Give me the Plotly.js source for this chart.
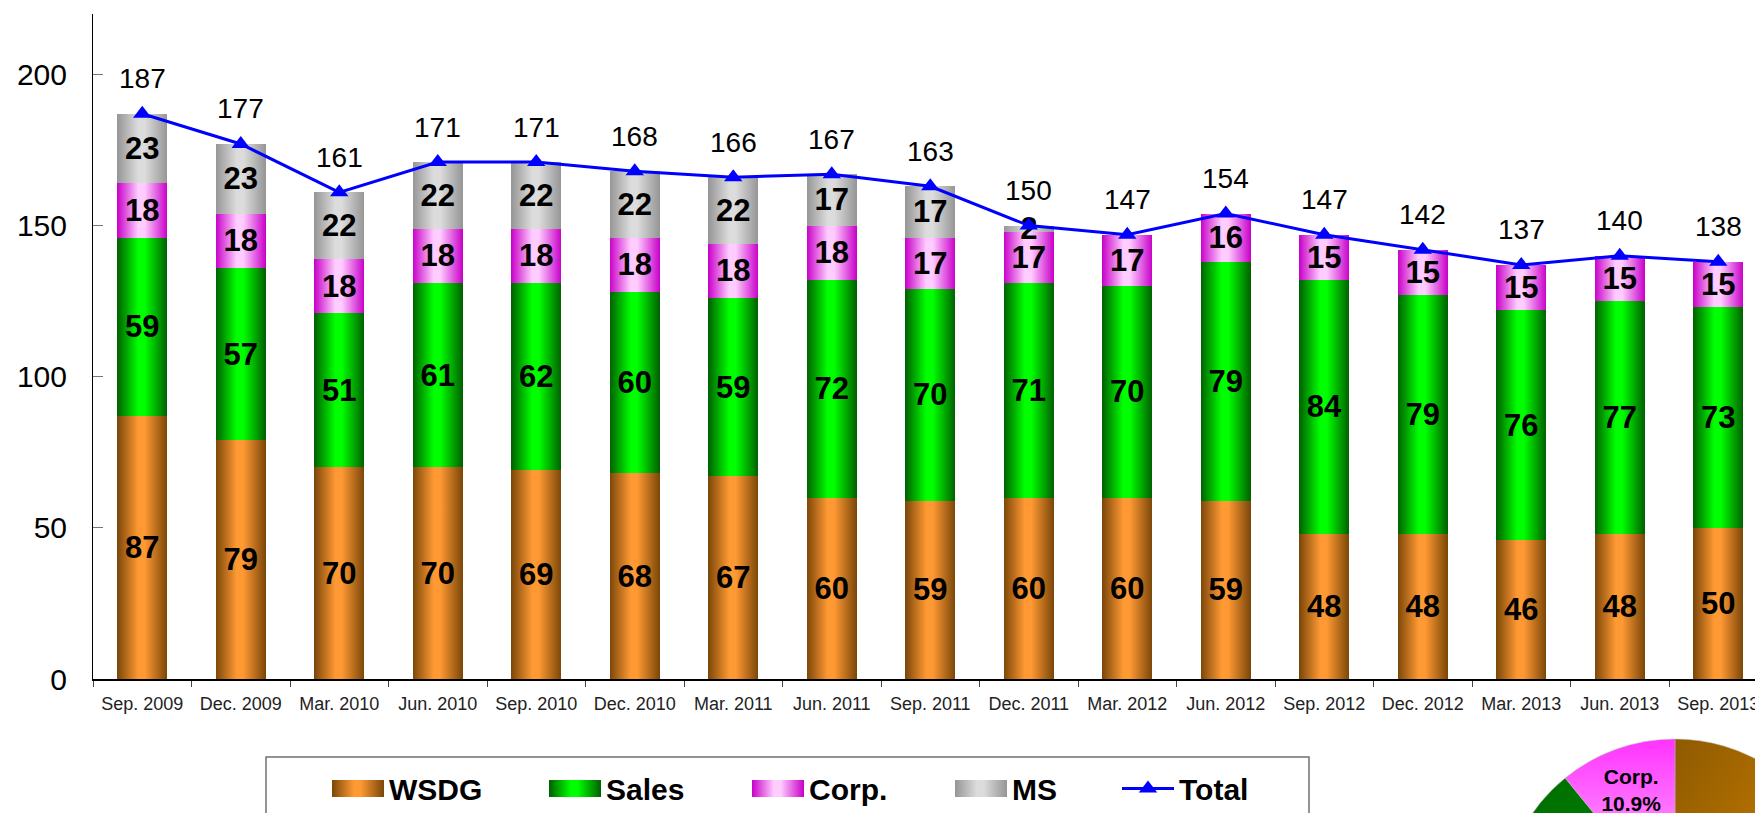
<!DOCTYPE html>
<html><head><meta charset="utf-8">
<script src="https://cdn.plot.ly/plotly-3.0.1.min.js"></script>
<style>html,body{margin:0;padding:0;overflow:hidden;background:#fff}#chart{width:1900px;height:1100px}</style>
</head><body><div id="chart"></div>
<script>
const quarters = ['Sep. 2009','Dec. 2009','Mar. 2010','Jun. 2010','Sep. 2010','Dec. 2010','Mar. 2011','Jun. 2011','Sep. 2011','Dec. 2011','Mar. 2012','Jun. 2012','Sep. 2012','Dec. 2012','Mar. 2013','Jun. 2013','Sep. 2013'];
const wsdg  = [87,79,70,70,69,68,67,60,59,60,60,59,48,48,46,48,50];
const sales = [59,57,51,61,62,60,59,72,70,71,70,79,84,79,76,77,73];
const corp  = [18,18,18,18,18,18,18,18,17,17,17,16,15,15,15,15,15];
const ms    = [23,23,22,22,22,22,22,17,17,2,0,0,0,0,0,0,0];
const total = [187,177,161,171,171,168,166,167,163,150,147,154,147,142,137,140,138];
const seriesNames = ['WSDG','Sales','Corp.','MS'];
const totalName = 'Total';
const pieLabels = ['WSDG','Sales','Corp.'];

const W = 1900, H = 1100;
const px = v => v / W;
const py = v => (H - v) / H;
const FONT = 'Liberation Sans, Arial, Helvetica, sans-serif';
const labelText = arr => arr.map(v => v > 0 ? String(v) : '');

const barSeries = [wsdg, sales, corp, ms];
const barColors = ['#f7932f','#00cc00','#ee88ee','#bbbbbb'];
const legendIds = ['legend','legend2','legend3','legend4','legend5'];
const legendStarts = [332, 549, 752, 955, 1122];

const traces = barSeries.map((vals, i) => ({
  type: 'bar', x: quarters, y: vals, name: seriesNames[i],
  marker: {color: barColors[i], line: {width: 0}},
  text: labelText(vals), textposition: 'inside', insidetextanchor: 'middle',
  textangle: 0, constraintext: 'none',
  textfont: {family: FONT, size: 31, color: '#000', weight: 'bold'},
  legend: legendIds[i], hoverinfo: 'skip'
}));
traces.push({
  type: 'scatter', mode: 'lines+markers', x: quarters, y: total, name: totalName,
  line: {color: '#0000ff', width: 3},
  marker: {symbol: 'triangle-up', size: 16, color: '#0000ff'},
  legend: 'legend5', cliponaxis: false, hoverinfo: 'skip'
});
traces.push({
  type: 'pie', labels: pieLabels,
  values: [wsdg[wsdg.length-1], sales[sales.length-1], corp[corp.length-1]],
  sort: false, direction: 'clockwise', rotation: 0,
  domain: {x: [px(1501), px(1849)], y: [(H-913-174)/H, (H-913+174)/H]},
  marker: {colors: ['#c87800','#009900','#ff66ff'], line: {color: '#bbbbbb', width: 0.5}},
  texttemplate: '<b>%{label}<br>%{percent:.1%}</b>', textposition: 'inside',
  insidetextorientation: 'horizontal',
  textfont: {family: FONT, size: 21, color: '#000'},
  showlegend: false, hoverinfo: 'skip'
});

const layout = {
  width: W, height: H, margin: {l: 0, r: 0, t: 0, b: 0, pad: 0},
  paper_bgcolor: '#fff', plot_bgcolor: 'rgba(0,0,0,0)',
  barmode: 'stack', bargap: 0.49,
  xaxis: {domain: [px(93), px(1767.5)], type: 'category', range: [-0.5, 16.5],
    showline: true, linecolor: '#000', linewidth: 1.5, ticks: 'outside', tickson: 'boundaries',
    ticklen: 6, tickcolor: '#444', tickwidth: 1, showgrid: false, zeroline: false,
    ticklabelstandoff: 8,
    tickfont: {family: FONT, size: 18, color: '#222'}},
  yaxis: {domain: [421/H, 1086/H], range: [0, 220], tick0: 0, dtick: 50,
    ticks: 'inside', ticklen: 10, tickcolor: '#777', showline: true, linecolor: '#000', linewidth: 1,
    showgrid: false, zeroline: false, ticklabelstandoff: 19,
    tickfont: {family: FONT, size: 30, color: '#000'}},
  annotations: total.map((v, i) => ({x: quarters[i], y: v, xref: 'x', yref: 'y', text: String(v),
    showarrow: false, yshift: 35, font: {family: FONT, size: 28, color: '#000'}})),
  shapes: [{type: 'rect', xref: 'paper', yref: 'paper', x0: px(266), x1: px(1309), y0: py(757), y1: py(1000),
    line: {color: '#707070', width: 1.5}, fillcolor: 'rgba(0,0,0,0)'}]
};
legendIds.forEach((id, i) => {
  layout[id] = {x: px(legendStarts[i] - 5), xanchor: 'left', y: py(788.5), yanchor: 'middle',
    orientation: 'h', itemwidth: 52, bgcolor: 'rgba(0,0,0,0)', borderwidth: 0,
    font: {family: FONT, size: 30, color: '#000', weight: 'bold'}};
});

Plotly.newPlot('chart', traces, layout, {displayModeBar: false, staticPlot: true}).then(gd => {
  const ns = 'http://www.w3.org/2000/svg';
  const svg = gd.querySelector('svg.main-svg');
  let defs = svg.querySelector('defs');
  if (!defs) { defs = document.createElementNS(ns, 'defs'); svg.insertBefore(defs, svg.firstChild); }
  function grad(id, stops, x2, y2) {
    const g = document.createElementNS(ns, 'linearGradient');
    g.setAttribute('id', id);
    g.setAttribute('x1', '0'); g.setAttribute('y1', '0');
    g.setAttribute('x2', x2); g.setAttribute('y2', y2);
    stops.forEach(([o, c]) => {
      const s = document.createElementNS(ns, 'stop');
      s.setAttribute('offset', o); s.setAttribute('stop-color', c);
      g.appendChild(s);
    });
    defs.appendChild(g);
  }
  const barGrads = [['#7a4608','#ff9933'],['#005f00','#00ff00'],['#c800c8','#ffccff'],['#959595','#dcdcdc']];
  barGrads.forEach(([d, l], i) => grad('bg' + i, [[0, d], [0.42, l], [0.55, l], [1, d]], '1', '0'));
  grad('pg0', [[0, '#8f5a00'], [1, '#e89200']], '1', '1');
  grad('pg1', [[0, '#006a00'], [1, '#00aa00']], '1', '1');
  grad('pg2', [[0, '#ff33ff'], [1, '#ffd0ff']], '0', '1');
  gd.querySelectorAll('.barlayer .trace.bars').forEach((t, i) => {
    t.querySelectorAll('.point path').forEach(p => { p.style.fill = 'url(#bg' + i + ')'; });
  });
  legendIds.slice(0, 4).forEach((id, i) => {
    const p = gd.querySelector('g.' + id + ' .legendpoints path');
    if (p) { p.setAttribute('d', 'M-26,-8.5H26V8.5H-26Z'); p.style.fill = 'url(#bg' + i + ')'; p.style.stroke = 'none'; }
  });
  gd.querySelectorAll('.pielayer .slice path.surface').forEach((p, i) => { p.style.fill = 'url(#pg' + i + ')'; });
});
</script>
</body></html>
